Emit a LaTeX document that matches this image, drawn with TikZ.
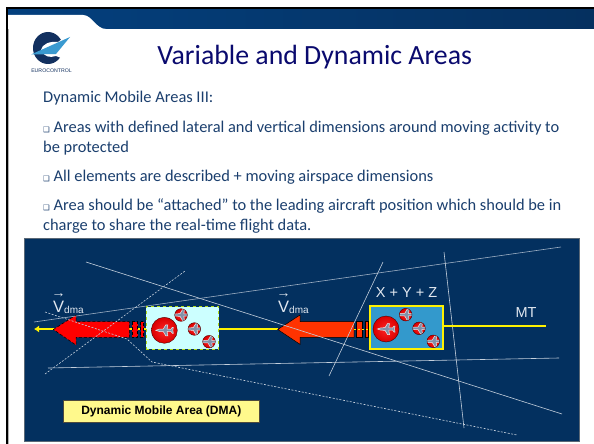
\documentclass[tikz,border=0pt]{standalone}
\usepackage{fontspec}
\usetikzlibrary{arrows.meta}
\setmainfont{Carlito}
\newfontfamily\arialfont{Liberation Sans}
\newfontfamily\bulletfont{DejaVu Sans}
\definecolor{barblue}{HTML}{04407E}
\definecolor{barend}{HTML}{05305F}
\definecolor{paneblue}{HTML}{03305F}
\definecolor{titleblue}{HTML}{0A0A6E}
\definecolor{textblue}{HTML}{1B3F6E}
\definecolor{logoblue}{HTML}{12305F}
\definecolor{wingblue}{HTML}{3A9AD0}
\definecolor{boxcyan}{HTML}{CCFFFF}
\definecolor{boxblue}{HTML}{3399CC}
\definecolor{linegray}{HTML}{C4CFDC}
\definecolor{labelgray}{HTML}{E2E8F0}
\definecolor{planegray}{HTML}{8290A8}
\definecolor{arroworange}{HTML}{FF3300}
\newcommand{\sq}{{\bulletfont\fontsize{7.5}{7.5}\selectfont ❑}}
\newcommand{\vdma}{\rlap{\kern-1.5pt\raisebox{15pt}{\fontsize{14}{14}\selectfont →}}V\fontsize{10}{10}\selectfont\raisebox{-1.5pt}{dma}}
\tikzset{
  bodytext/.style={anchor=base west,align=left,inner sep=0pt,text=textblue,font=\fontsize{16.4}{20}\selectfont},
  airline/.style={linegray,line width=0.6pt},
  airdash/.style={linegray,line width=0.6pt,dash pattern=on 2pt off 1.5pt},
  vlabel/.style={text=labelgray,font=\arialfont\fontsize{14.5}{14.5}\selectfont,inner sep=0pt},
  planeball/.style={circle,draw=black!70!red,inner sep=0pt,minimum size=#1pt,inner color=red!85!white,outer color=red!85!black,
    path picture={
      \begin{scope}[shift={(path picture bounding box.center)},scale=#1/26]
        \filldraw[fill=planegray,draw=white!85!gray,line width=0.5pt]
          (-8.5,0) -- (-5,-1.2) -- (-1,-1.3) -- (1.5,-5.5) -- (3.5,-5.5) -- (2.8,-1.2) -- (6.5,-1) -- (8,-3) -- (9,-3)
          -- (8.5,0) -- (9,3) -- (8,3) -- (6.5,1) -- (2.8,1.2) -- (3.5,5.5) -- (1.5,5.5) -- (-1,1.3) -- (-5,1.2) -- cycle;
      \end{scope}}},
  dmaarrow/.style={draw=black,line width=0.5pt},
}
\begin{document}
\begin{tikzpicture}[x=1pt,y=-1pt]
  \useasboundingbox (0,0) rectangle (594,444);
  % slide frame and header
  \fill[white] (0,0) rectangle (594,444);
  \shade[left color=barblue,right color=barend] (8,9) rectangle (594,29);
  \fill[white] (8,15) -- (83,15) .. controls (92,15) and (96,29) .. (106,29) -- (8,29) -- cycle;
  \draw[black,line width=2pt] (7,444) -- (7,8) -- (594,8);
  \draw[gray!60,line width=0.8pt] (8.6,444) -- (8.6,29);

  % logo
  \fill[logoblue] (48,48) ellipse (15 and 16);
  \fill[white] (41,50) .. controls (42,44) and (50,41) .. (58,42) -- (66,36) -- (66,60) -- (56,56) .. controls (50,58) and (44,57) .. (41,50) -- cycle;
  \fill[wingblue] (31,54.5) -- (70,37) -- (56,54) -- cycle;
  \node (logotext) at (51.5,71) {\arialfont\fontsize{5.2}{5.2}\selectfont\color{logoblue}EUROCONTROL};

  % title and text
  \node[anchor=base,inner sep=0pt,text=titleblue,font=\fontsize{27.8}{27.8}\selectfont] (title) at (314.7,65) {Variable and Dynamic Areas};
  \node[bodytext] (intro) at (43,102) {Dynamic Mobile Areas III:};
  \node[bodytext] (first) at (43,152) {\sq{} Areas with defined lateral and vertical dimensions around moving activity to\\be protected};
  \node[bodytext] (second) at (43,181) {\sq{} All elements are described + moving airspace dimensions};
  \node[bodytext] (third) at (43,230) {\sq{} Area should be “attached” to the leading aircraft position which should be in\\charge to share the real-time flight data.};

  % panel
  \filldraw[fill=paneblue,draw=gray!70!paneblue,line width=0.7pt] (24,238) rectangle (579,441);

  % arrows
  \coordinate (mtend) at (546,326);
  \coordinate (dmaend) at (34,329);
  \draw[yellow,line width=2pt] (219,329) -- (278,329);
  \draw[yellow,line width=1.5pt,-{Latex[length=5pt,width=7pt]}] (146,329) -- (dmaend);
  \filldraw[fill=arroworange,dmaarrow] (277.7,329.5) -- (300,315) -- (300,321.7) -- (354,321.7) -- (354,337.3) -- (300,337.3) -- (300,344.3) -- cycle;
  \filldraw[fill=arroworange,dmaarrow] (356.7,321.7) rectangle (362.3,337.3);
  \filldraw[fill=arroworange,dmaarrow] (365.7,321.7) rectangle (368,337.3);
  \filldraw[fill=red,dmaarrow,densely dashed] (53.3,329.5) -- (76,315) -- (76,321.7) -- (129.3,321.7) -- (129.3,337.3) -- (76,337.3) -- (76,345) -- cycle;
  \filldraw[fill=red,dmaarrow,densely dashed] (132,321.7) rectangle (137.7,337.3);
  \filldraw[fill=red,dmaarrow,densely dashed] (140.7,321.7) rectangle (143.7,337.3);
  \draw[yellow,line width=1.3pt,dash pattern=on 2pt off 2pt] (354,329.5) -- (370,329.5);

  % lines
  \draw[airline] (86,262) -- (562,414);
  \draw[airline,draw=linegray!80!paneblue] (34,322) -- (561,247);
  \draw[airline] (48,368) -- (559,358);
  \draw[airline] (329,376) -- (383,262);
  \draw[airline] (444,252) -- (464,428);
  \draw[airdash] (45,374) -- (185,271);
  \draw[airdash] (45,312) -- (127,339) -- (152,362) -- (517,435);

  % moving areas
  \node[draw=yellow,line width=1.5pt,fill=boxblue,minimum width=73pt,minimum height=43pt,inner sep=0pt] (mtbox) at (406.5,327.5) {};
  \node[draw=yellow!70!green,dashed,line width=1pt,fill=boxcyan,minimum width=72.5pt,minimum height=42.5pt,inner sep=0pt] (dmabox) at (182.5,328) {};
  \draw[yellow,line width=2pt] (mtbox.east |- mtend) -- (mtend);

  % aircraft
  \node[planeball=26] (dmabig) at (164.3,330.3) {};
  \node[planeball=12.6] (dmaa) at (181,315) {};
  \node[planeball=12.6] (dmab) at (194.3,329) {};
  \node[planeball=12.6] (dmac) at (209,341.7) {};
  \node[planeball=26] (mtbig) at (386,329) {};
  \node[planeball=12.6] (mta) at (405.7,314.7) {};
  \node[planeball=12.6] (mtb) at (419,328.3) {};
  \node[planeball=12.6] (mtc) at (433.3,341.3) {};

  % labels
  \node[vlabel,anchor=base west,font=\arialfont\fontsize{16.5}{16.5}\selectfont] (vleft) at (53,312) {\vdma};
  \node[vlabel,anchor=base west,font=\arialfont\fontsize{16.5}{16.5}\selectfont] (vright) at (278,312) {\vdma};
  \node[vlabel] (xyz) at (406.5,292.5) {X + Y + Z};
  \node[vlabel] (mt) at (526,312.5) {MT};
  \node[draw=black!80!yellow,fill=yellow!45,line width=0.7pt,minimum width=196pt,minimum height=22.3pt,inner sep=0pt,font=\arialfont\bfseries\fontsize{12}{12}\selectfont] (dmalabel) at (161.3,411.2) {Dynamic Mobile Area (DMA)};
\end{tikzpicture}
\end{document}
